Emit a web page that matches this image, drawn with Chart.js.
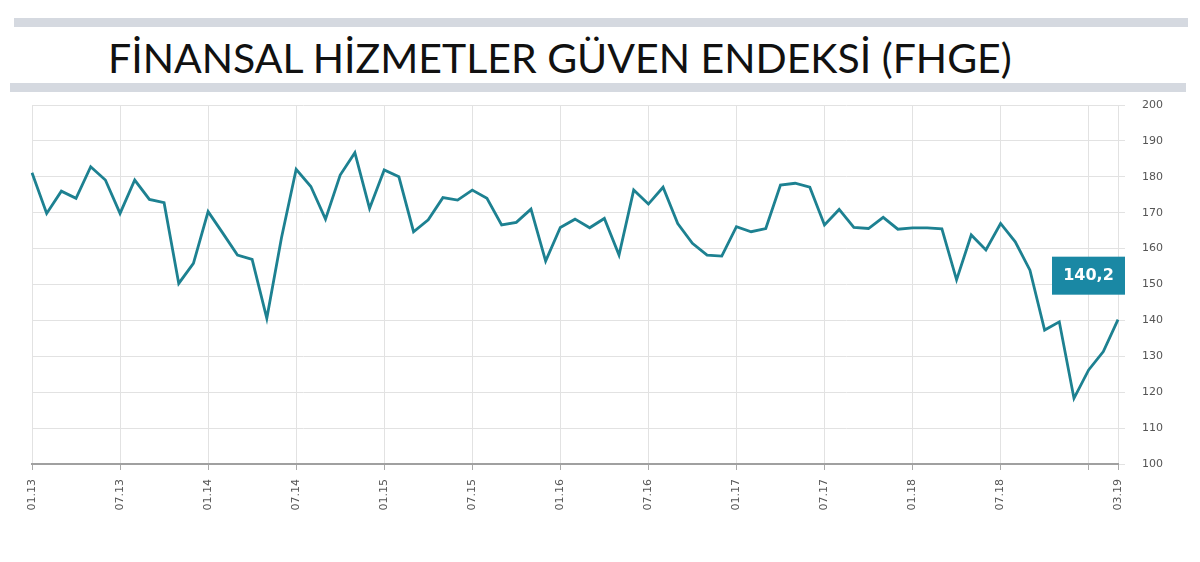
<!DOCTYPE html>
<html>
<head>
<meta charset="utf-8">
<script src="https://cdn.jsdelivr.net/npm/chart.js@4"></script>
<style>
  html, body { margin: 0; padding: 0; background: #fff; }
  #wrap { position: relative; width: 1200px; height: 562px; overflow: hidden; }
  .bar { position: absolute; background: #d5d9e0; height: 9px; }
  #title { position: absolute; left: 108px; top: 33px; font-family: Lato, "Open Sans", sans-serif;
           font-size: 41px; color: #111; white-space: nowrap; }
  #grafik { position: absolute; left: 0; top: 0; }
</style>
</head>
<body>
<div id="wrap">
  <div class="bar" style="left:14px; width:1174px; top:18px;"></div>
  <div class="bar" style="left:10px; width:1176px; top:83px;"></div>
  <div id="title">FİNANSAL HİZMETLER GÜVEN ENDEKSİ (FHGE)</div>
  <canvas id="grafik" width="1200" height="562"></canvas>
</div>
<script>
// aylar: 01.13 - 03.19
var months = []
for (var yil = 13; yil <= 19; yil++) {
    for (var ay = 1; ay <= 12; ay++) {
        if (yil === 19 && ay > 3) break
        months.push((ay < 10 ? "0" + ay : "" + ay) + "." + yil)
    }
}

// FHGE endeks degerleri (aylik)
var fhge = [
    181.1, 169.8, 176.0, 174.0, 182.8, 179.1, 169.8, 179.1, 173.7, 172.8, 150.3, 155.9,
    170.3, 164.3, 158.2, 157.0, 140.6, 163.0, 182.1, 177.3, 168.2, 180.5, 186.7, 171.2,
    181.9, 180.0, 164.7, 168.0, 174.2, 173.5, 176.3, 174.0, 166.6, 167.3, 171.0, 156.5,
    165.9, 168.2, 165.8, 168.4, 158.2, 176.3, 172.4, 177.1, 167.0, 161.5, 158.2, 157.9,
    166.1, 164.7, 165.6, 177.7, 178.2, 177.1, 166.6, 170.9, 165.9, 165.6, 168.7, 165.4,
    165.8, 165.8, 165.5, 151.3, 163.8, 159.6, 167.0, 161.9, 154.0, 137.3, 139.6, 118.3,
    126.2, 131.3, 140.2
]

var lastLabel = "140,2"

// son degerin kutusu
const sonDeger = {
    id: "sonDeger",
    afterDatasetsDraw(chart) {
        var meta = chart.getDatasetMeta(0)
        var pt = meta.data[meta.data.length - 1]
        var ctx = chart.ctx
        var bx = pt.x - 66, by = pt.y - 63
        ctx.save()
        ctx.fillStyle = "#1a88a4"
        ctx.fillRect(bx, by, 73, 38)
        ctx.fillStyle = "#fff"
        ctx.font = "bold 16px 'DejaVu Sans', sans-serif"
        ctx.textAlign = "center"
        ctx.textBaseline = "middle"
        ctx.fillText(lastLabel, bx + 36.5, by + 19)
        ctx.restore()
    }
}

let grafik = document.getElementById("grafik").getContext("2d")

var line_fhge = new Chart(grafik, {
    type: "line",
    data: {
        labels: months,
        datasets: [{
            data: fhge,
            fill: false,
            tension: 0,
            borderColor: "#1d8191",
            borderWidth: 2.8,
            pointRadius: 0
        }]
    },
    options: {
        responsive: false,
        animation: false,
        layout: { padding: { left: 32, top: 105, right: 0, bottom: 0 } },
        plugins: {
            legend: { display: false },
            tooltip: { enabled: false }
        },
        scales: {
            x: {
                offset: false,
                afterFit: function (s) { s.height = 98 },
                border: { color: "#a0a0a0", width: 2 },
                grid: {
                    color: function (c) { return c.index === months.length - 1 ? "rgba(0,0,0,0)" : "#e2e2e2" },
                    tickLength: 6,
                    tickColor: "#aaa"
                },
                ticks: {
                    autoSkip: false,
                    minRotation: 90,
                    maxRotation: 90,
                    padding: 9,
                    color: "#555",
                    font: { family: "'DejaVu Sans', sans-serif", size: 11 },
                    callback: function (v, i) {
                        if (i === months.length - 1) return months[i]
                        if (i % 6 !== 0) return null
                        if (i === 72) return ""
                        return months[i]
                    }
                }
            },
            y: {
                position: "right",
                min: 100,
                max: 200,
                afterFit: function (s) { s.width = 82 },
                border: { display: false },
                grid: { color: "#e2e2e2", tickLength: 7 },
                ticks: {
                    stepSize: 10,
                    padding: 17,
                    color: "#555",
                    font: { family: "'DejaVu Sans', sans-serif", size: 11 }
                }
            }
        }
    },
    plugins: [sonDeger]
})
</script>
</body>
</html>
